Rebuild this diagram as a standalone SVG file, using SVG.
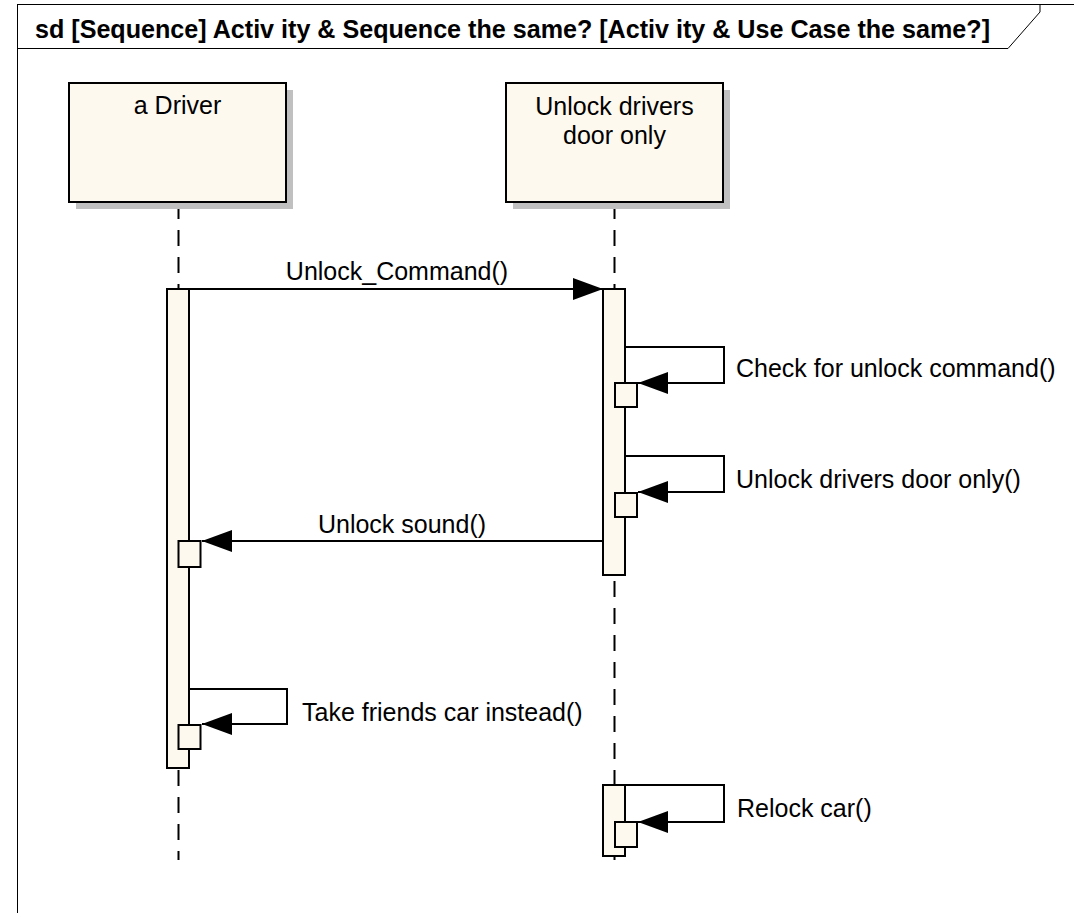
<svg xmlns="http://www.w3.org/2000/svg" width="1074" height="913" viewBox="0 0 1074 913">
  <style>
    .frame { fill: none; stroke: #000; stroke-width: 1; }
    .title { font-family: "Liberation Sans", Arial, sans-serif; font-size: 25px; font-weight: bold; fill: #000; }
    .lbl { font-family: "Liberation Sans", Arial, sans-serif; font-size: 25px; fill: #000; }
    .head { fill: #FEF9EE; stroke: #000; stroke-width: 2; }
    .shadow { fill: #C0C0C0; stroke: none; }
    .life { stroke: #000; stroke-width: 2; stroke-dasharray: 16 11; fill: none; }
    .act { fill: #FEF9EE; stroke: #000; stroke-width: 2; }
    .msg { fill: none; stroke: #000; stroke-width: 2; }
  </style>
  <defs>
    <marker id="arrow" markerUnits="userSpaceOnUse" markerWidth="31" markerHeight="22" refX="30" refY="11" orient="auto">
      <path d="M0,0 L30,11 L0,22 z" fill="#000"/>
    </marker>
  </defs>
  <rect width="1074" height="913" fill="#fff"/>

  <g id="frame">
    <rect class="frame" x="17.5" y="4.5" width="1070" height="920"/>
    <polyline class="frame" points="17.5,48.5 1008,48.5 1040,12 1040,4.5"/>
    <text class="title" x="35" y="38" textLength="955" lengthAdjust="spacingAndGlyphs">sd [Sequence] Activ ity &amp; Sequence the same? [Activ ity &amp; Use Case the same?]</text>
  </g>

  <g id="lifelines">
    <line class="life" x1="178.5" y1="203" x2="178.5" y2="860"/>
    <line class="life" x1="614.5" y1="203" x2="614.5" y2="860"/>
  </g>

  <g id="driver">
    <rect class="shadow" x="76" y="90" width="217" height="119"/>
    <rect class="head" x="69" y="83" width="217" height="119"/>
    <text class="lbl" x="177.5" y="114" text-anchor="middle">a Driver</text>
  </g>

  <g id="unlockDoor">
    <rect class="shadow" x="513" y="90" width="217" height="119"/>
    <rect class="head" x="506" y="83" width="217" height="119"/>
    <text class="lbl" x="614.5" y="115" text-anchor="middle">Unlock drivers</text>
    <text class="lbl" x="614.5" y="144" text-anchor="middle">door only</text>
  </g>

  <g id="activations">
    <rect class="act" x="167" y="289" width="22" height="479"/>
    <rect class="act" x="603" y="289" width="22" height="286"/>
    <rect class="act" x="603" y="785" width="22" height="71"/>
    <rect class="act" x="615" y="383" width="22" height="24"/>
    <rect class="act" x="615" y="493" width="22" height="24"/>
    <rect class="act" x="178.5" y="541" width="22" height="26"/>
    <rect class="act" x="178.5" y="725" width="22" height="24"/>
    <rect class="act" x="615" y="822" width="22" height="25"/>
  </g>

  <g id="connectors">
    <line class="msg" x1="189" y1="289" x2="603" y2="289" marker-end="url(#arrow)"/>
    <text class="lbl" x="397" y="280" text-anchor="middle">Unlock_Command()</text>

    <polyline class="msg" points="625,347 724,347 724,383 638,383" marker-end="url(#arrow)"/>
    <text class="lbl" x="736" y="377">Check for unlock command()</text>

    <polyline class="msg" points="625,456 724,456 724,492 638,492" marker-end="url(#arrow)"/>
    <text class="lbl" x="736" y="488">Unlock drivers door only()</text>

    <line class="msg" x1="603" y1="541" x2="202" y2="541" marker-end="url(#arrow)"/>
    <text class="lbl" x="402" y="533" text-anchor="middle">Unlock sound()</text>

    <polyline class="msg" points="189,689 287,689 287,724 202,724" marker-end="url(#arrow)"/>
    <text class="lbl" x="302" y="721">Take friends car instead()</text>

    <polyline class="msg" points="625,785 724,785 724,822 638,822" marker-end="url(#arrow)"/>
    <text class="lbl" x="737" y="817">Relock car()</text>
  </g>
</svg>
